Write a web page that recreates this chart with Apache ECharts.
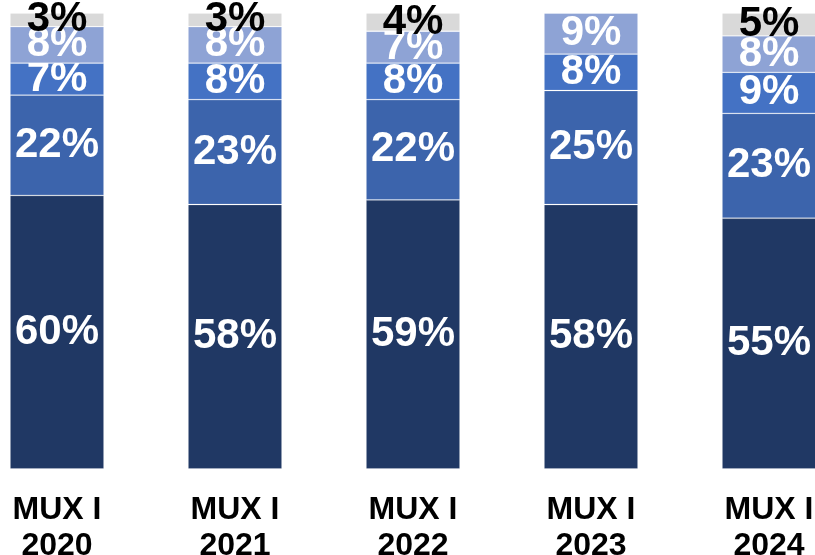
<!DOCTYPE html>
<html>
<head>
<meta charset="utf-8">
<script src="https://cdn.jsdelivr.net/npm/echarts@6/dist/echarts.min.js"></script>
<style>html,body{margin:0;padding:0;background:#fff;}#c{width:815px;height:555px;}</style>
</head>
<body>
<div id="c"></div>
<script>
var categories = ['MUX I\n2020', 'MUX I\n2021', 'MUX I\n2022', 'MUX I\n2023', 'MUX I\n2024'];
var seg1 = [60, 58, 59, 58, 55];
var seg2 = [22, 23, 22, 25, 23];
var seg3 = [7, 8, 8, 8, 9];
var seg4 = [8, 8, 7, 9, 8];
var seg5 = [3, 3, 4, 0, 5];

var colors = ['#203864', '#3C64AC', '#4472C4', '#8EA3D5', '#D9D9D9'];
var labelColors = ['#fff', '#fff', '#fff', '#fff', '#000'];
var FONT = '"Liberation Sans", Arial, sans-serif';

function mk(name, data, i) {
  return {
    name: name,
    type: 'bar',
    stack: 'total',
    barWidth: 94,
    clip: false,
    data: data,
    itemStyle: { color: colors[i], borderColor: 'rgba(255,255,255,0.25)', borderWidth: 0.8 },
    label: {
      show: true,
      position: 'inside',
      color: labelColors[i],
      fontFamily: FONT,
      fontWeight: 'bold',
      fontSize: 42,
      formatter: function (p) { return p.value ? p.value + '%' : ''; }
    },
    z: 2 + i
  };
}

var chart = echarts.init(document.getElementById('c'));
chart.setOption({
  animation: false,
  grid: { left: 57, right: 46, top: 13, bottom: 86, containLabel: false, outerBoundsMode: 'none' },
  xAxis: {
    type: 'category',
    data: categories,
    boundaryGap: false,
    axisLine: { show: false },
    axisTick: { show: false },
    axisLabel: {
      interval: 0,
      margin: 23,
      color: '#000',
      fontFamily: FONT,
      fontWeight: 'bold',
      fontSize: 32,
      lineHeight: 36
    }
  },
  yAxis: {
    type: 'value',
    min: 0,
    max: 100,
    show: false,
    splitLine: { show: false }
  },
  series: [
    mk('s1', seg1, 0),
    mk('s2', seg2, 1),
    mk('s3', seg3, 2),
    mk('s4', seg4, 3),
    mk('s5', seg5, 4)
  ]
});
</script>
</body>
</html>
